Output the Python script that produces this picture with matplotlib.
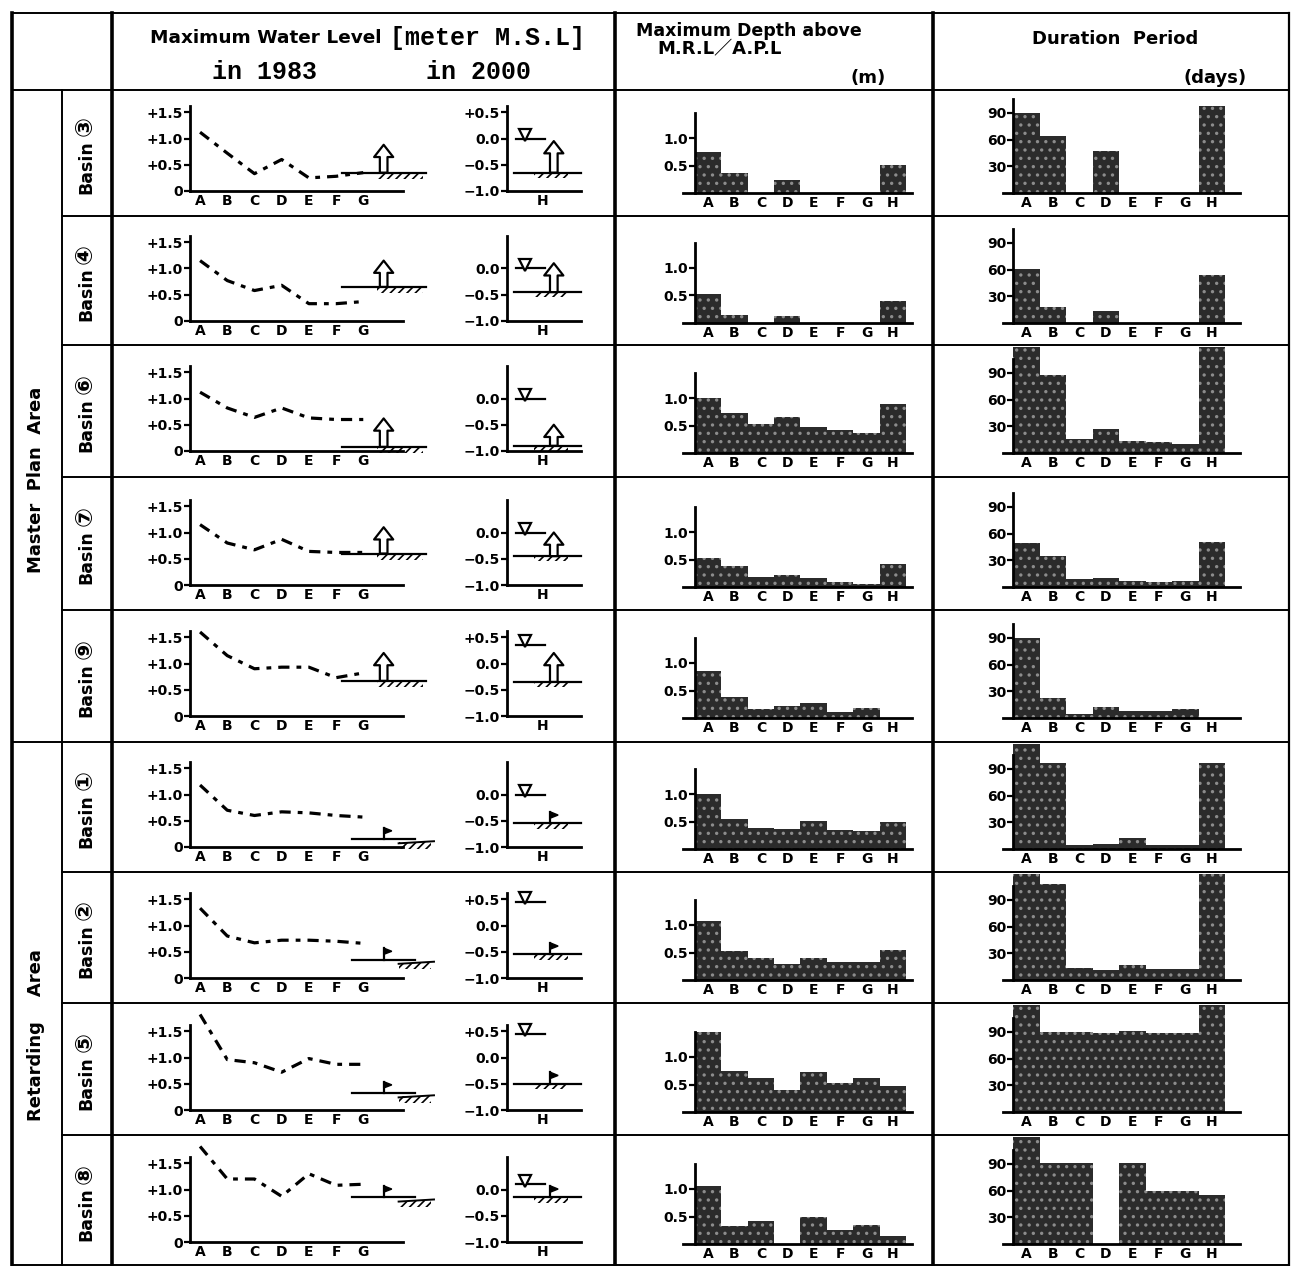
import matplotlib
matplotlib.use('Agg')
import matplotlib.pyplot as plt
from matplotlib.patches import Rectangle, Polygon

plt.rcParams['font.family'] = ['Liberation Sans Narrow', 'DejaVu Sans', 'Noto Sans CJK JP']
plt.rcParams['font.weight'] = 'bold'
plt.rcParams['hatch.linewidth'] = 1.2

# ---------------- data ----------------
basin_numbers = ['③', '④', '⑥', '⑦', '⑨', '①', '②', '⑤', '⑧']
basin_word = 'Basin'
group_labels = ['Master  Plan  Area', 'Retarding    Area']
stations_1983 = ['A', 'B', 'C', 'D', 'E', 'F', 'G']
stations_all = ['A', 'B', 'C', 'D', 'E', 'F', 'G', 'H']

# maximum water level in 1983 (m M.S.L), stations A-G
wl_1983 = [
    [1.12, 0.72, 0.33, 0.60, 0.25, 0.28, 0.35],
    [1.15, 0.77, 0.58, 0.68, 0.33, 0.33, 0.37],
    [1.12, 0.82, 0.64, 0.82, 0.63, 0.60, 0.60],
    [1.15, 0.80, 0.67, 0.87, 0.64, 0.62, 0.62],
    [1.60, 1.15, 0.90, 0.93, 0.93, 0.73, 0.82],
    [1.18, 0.70, 0.60, 0.67, 0.65, 0.60, 0.57],
    [1.33, 0.80, 0.67, 0.72, 0.72, 0.70, 0.66],
    [1.82, 0.96, 0.90, 0.72, 0.98, 0.87, 0.87],
    [1.82, 1.20, 1.20, 0.87, 1.30, 1.08, 1.10],
]
ground_1983 = [0.35, 0.65, 0.08, 0.60, 0.67, 0.15, 0.35, 0.32, 0.85]
arrow_tip_1983 = [0.88, 1.15, 0.62, 1.10, 1.20, None, None, None, None]

# water level and ground level at H in 2000
wl_2000 = [0.0, 0.0, 0.0, 0.0, 0.35, 0.0, 0.45, 0.45, 0.10]
ground_2000 = [-0.65, -0.45, -0.90, -0.45, -0.35, -0.55, -0.55, -0.50, -0.15]
arrow_tip_2000 = [-0.05, 0.10, -0.50, 0.0, 0.20, None, None, None, None]
y2000_ticks = [[0.5, 0.0, -0.5, -1.0], [0.0, -0.5, -1.0], [0.0, -0.5, -1.0],
               [0.0, -0.5, -1.0], [0.5, 0.0, -0.5, -1.0], [0.0, -0.5, -1.0],
               [0.5, 0.0, -0.5, -1.0], [0.5, 0.0, -0.5, -1.0], [0.0, -0.5, -1.0]]
y2000_labels = {0.5: '+0.5', 0.0: '0.0', -0.5: '\u22120.5', -1.0: '\u22121.0'}

# maximum depth above M.R.L / A.P.L (m), stations A-H
depth = [
    [0.75, 0.37, 0.00, 0.23, 0.00, 0.00, 0.00, 0.51],
    [0.52, 0.15, 0.00, 0.12, 0.00, 0.00, 0.00, 0.40],
    [1.00, 0.72, 0.52, 0.66, 0.47, 0.41, 0.36, 0.90],
    [0.52, 0.39, 0.18, 0.22, 0.16, 0.10, 0.05, 0.41],
    [0.85, 0.38, 0.16, 0.22, 0.28, 0.11, 0.18, 0.00],
    [1.00, 0.54, 0.39, 0.36, 0.51, 0.34, 0.33, 0.49],
    [1.07, 0.52, 0.40, 0.30, 0.40, 0.33, 0.32, 0.54],
    [1.50, 0.75, 0.62, 0.40, 0.72, 0.52, 0.62, 0.47],
    [1.05, 0.33, 0.42, 0.00, 0.49, 0.25, 0.34, 0.15],
]
# duration period (days), stations A-H
duration = [
    [90, 64, 0, 47, 0, 0, 0, 98],
    [61, 18, 0, 13, 0, 0, 0, 54],
    [125, 88, 16, 27, 13, 12, 10, 125],
    [49, 35, 9, 10, 7, 6, 7, 51],
    [90, 23, 4, 12, 8, 8, 10, 0],
    [125, 97, 5, 6, 12, 5, 4, 97],
    [125, 108, 14, 11, 17, 12, 12, 125],
    [125, 90, 90, 89, 91, 89, 89, 125],
    [125, 91, 91, 0, 91, 60, 60, 55],
]

header_wl = 'Maximum Water Level'
header_wl_unit = '[meter M.S.L]'
header_years = ['in 1983', 'in 2000']
header_depth = ['Maximum Depth above', 'M.R.L\uff0fA.P.L', '(m)']
header_dur = ['Duration  Period', '(days)']

# ---------------- layout (pixels) ----------------
W, H = 1292, 1266
fig = plt.figure(figsize=(W / 100, H / 100), dpi=100)
bg = fig.add_axes([0, 0, 1, 1])
bg.set_xlim(0, W)
bg.set_ylim(H, 0)
bg.axis('off')

row_tops = [90, 216, 345, 477, 610, 742, 872, 1003, 1135, 1266]
baselines = [191, 321, 451, 585, 716, 847, 978, 1110, 1242]
X_L, X_G, X_B, X_D, X_T, X_R = 12, 62, 112, 615, 933, 1289
TOP = 13
MONO = ['Liberation Mono', 'DejaVu Sans Mono']

lw_h = 1.4
bg.plot([X_L, X_R], [TOP, TOP], color='k', lw=lw_h)
bg.plot([X_L, X_R], [90, 90], color='k', lw=lw_h)
for y in row_tops[1:-1]:
    x0 = X_L if y == 742 else X_G
    bg.plot([x0, X_R], [y, y], color='k', lw=lw_h)
bg.plot([X_L, X_R], [H - 1, H - 1], color='k', lw=lw_h)
for x, y0, lw in [(X_L, TOP, 2.6), (X_G, 90, 1.4), (X_B, TOP, 2.6), (X_D, TOP, 2.6),
                  (X_T, TOP, 2.6), (X_R, TOP, 1.6)]:
    bg.plot([x, x], [y0, H], color='k', lw=lw)

# headers
bg.text(150, 38, header_wl, fontsize=13.3, ha='left', va='center')
bg.text(390, 38, header_wl_unit, fontsize=18, ha='left', va='center',
        family=MONO, fontweight='bold')
bg.text(265, 72, header_years[0], fontsize=18, ha='center', va='center',
        family=MONO, fontweight='bold')
bg.text(479, 72, header_years[1], fontsize=18, ha='center', va='center',
        family=MONO, fontweight='bold')
bg.text(636, 31, header_depth[0], fontsize=12.5, ha='left', va='center')
bg.text(657, 49, header_depth[1], fontsize=13, ha='left', va='center')
bg.text(886, 78, header_depth[2], fontsize=13, ha='right', va='center')
bg.text(1115, 39, header_dur[0], fontsize=13, ha='center', va='center')
bg.text(1247, 78, header_dur[1], fontsize=13, ha='right', va='center')

bg.text(36, 480, group_labels[0], rotation=90, fontsize=13, ha='center', va='center')
bg.text(36, 1035, group_labels[1], rotation=90, fontsize=13, ha='center', va='center')
for i, num in enumerate(basin_numbers):
    yc = (row_tops[i] + row_tops[i + 1]) / 2
    bg.text(86, yc + 14, basin_word, rotation=90, fontsize=12.5, ha='center', va='center')
    bg.text(85, yc - 27, num, rotation=90, fontsize=17, ha='center', va='center',
            family=['DejaVu Sans', 'Noto Sans CJK JP'], fontweight='bold')


def px_axes(x0, y0, x1, y1):
    return fig.add_axes([x0 / W, 1 - y1 / H, (x1 - x0) / W, (y1 - y0) / H])


def style_axes(ax, spine_lw=2.0):
    for s in ['top', 'right']:
        ax.spines[s].set_visible(False)
    for s in ['left', 'bottom']:
        ax.spines[s].set_linewidth(spine_lw)
    ax.patch.set_alpha(0)
    ax.tick_params(axis='x', length=0, labelsize=10, pad=2)
    ax.tick_params(axis='y', length=4, width=1.6, direction='out', labelsize=10, pad=1)


def draw_hatch(ax, x0, x1, level, h):
    ax.add_patch(Rectangle((x0, level - h), x1 - x0, h, fill=False, hatch='////',
                           lw=0, color='k', clip_on=False))


def draw_flag(ax, x, level, w, h):
    ax.plot([x, x], [level, level + h], color='k', lw=1.6, clip_on=False)
    ax.add_patch(Polygon([[x, level + h], [x + w, level + h * 0.72], [x, level + h * 0.45]],
                         closed=True, color='k', clip_on=False))


def draw_water_mark(ax, x, level, half):
    ax.plot([x - half, x + half * 2.2], [level, level], color='k', lw=1.6, clip_on=False)
    ax.plot([x], [level + 0.07], marker='v', ms=8, mfc='white', mec='k', mew=1.6,
            clip_on=False)


def up_arrow(ax, x, base, tip):
    ax.annotate('', xy=(x, tip), xytext=(x, base), annotation_clip=False,
                arrowprops=dict(arrowstyle='simple,head_width=1.25,head_length=0.8,tail_width=0.5',
                                fc='white', ec='k', lw=1.6, mutation_scale=11,
                                shrinkA=0, shrinkB=0))


BAR_STYLE = dict(width=1.0, facecolor='#2b2b2b', edgecolor='#8c8c8c', hatch='..', lw=0)

U = 52.5  # px per metre in water-level panels
for i in range(9):
    base = baselines[i]
    top = base - 1.62 * U
    # ---- 1983 panel ----
    a1 = px_axes(190, top, 455, base)
    style_axes(a1)
    xs = [1, 2, 3, 4, 5, 6, 7]
    a1.set_xlim(0.63, 0.63 + 265 / 27.2)
    a1.set_ylim(0, 1.62)
    a1.spines['bottom'].set_bounds(0.63, 8.45)
    a1.plot(xs, wl_1983[i], color='k', lw=2.3, ls=(0, (3.5, 2.2, 1.5, 2.2)), clip_on=False)
    a1.set_xticks(xs)
    a1.set_xticklabels(stations_1983)
    a1.set_yticks([0, 0.5, 1.0, 1.5])
    a1.set_yticklabels(['0', '+0.5', '+1.0', '+1.5'])
    g = ground_1983[i]
    if arrow_tip_1983[i] is not None:
        a1.plot([6.2, 9.3], [g, g], color='k', lw=1.6, clip_on=False)
        draw_hatch(a1, 7.5, 9.2, g, 0.12)
        up_arrow(a1, 7.75, g, arrow_tip_1983[i])
    else:
        a1.plot([6.6, 8.9], [g, g], color='k', lw=1.6, clip_on=False)
        a1.plot([8.3, 9.6], [g - 0.08, g - 0.04], color='k', lw=1.4, clip_on=False)
        draw_hatch(a1, 8.3, 9.5, g - 0.06, 0.12)
        draw_flag(a1, 7.75, g, 0.3, 0.22)

    # ---- 2000 panel ----
    a2 = px_axes(507, top, 585, base)
    style_axes(a2)
    a2.set_xlim(0, 78 / 36)
    a2.set_ylim(-1.0, 0.62)
    a2.spines['bottom'].set_bounds(0, 2.05)
    a2.set_xticks([1])
    a2.set_xticklabels(['H'])
    a2.set_yticks(y2000_ticks[i])
    a2.set_yticklabels([y2000_labels[v] for v in y2000_ticks[i]])
    draw_water_mark(a2, 0.5, wl_2000[i], 0.25)
    g2 = ground_2000[i]
    a2.plot([0.2, 2.05], [g2, g2], color='k', lw=1.6, clip_on=False)
    draw_hatch(a2, 0.75, 1.7, g2, 0.1)
    if arrow_tip_2000[i] is not None:
        up_arrow(a2, 1.3, g2, arrow_tip_2000[i])
    else:
        draw_flag(a2, 1.2, g2, 0.22, 0.22)

    # ---- depth panel ----
    slot = 26.4
    bd = baselines[i] + 2
    ad = px_axes(683, bd - 1.45 * 55, 912, bd)
    style_axes(ad)
    ad.set_xlim(-0.5 - 12 / slot, 7.5 + 6 / slot)
    ad.set_ylim(0, 1.45)
    ad.spines['left'].set_position(('data', -0.5))
    ad.bar(range(8), depth[i], **BAR_STYLE)
    ad.set_xticks(range(8))
    ad.set_xticklabels(stations_all)
    ad.set_yticks([0.5, 1.0])
    ad.set_yticklabels(['0.5', '1.0'])

    # ---- duration panel ----
    slot2 = 26.5
    ytop = row_tops[i] + 2
    unit = 26.7 / 30
    ymax = (bd - ytop) / unit
    au = px_axes(1003, ytop, 1240, bd)
    style_axes(au)
    au.set_xlim(-0.5 - 10 / slot2, -0.5 + 227 / slot2)
    au.set_ylim(0, ymax)
    au.spines['left'].set_position(('data', -0.5))
    au.spines['left'].set_bounds(0, min(ymax, 106))
    au.bar(range(8), duration[i], **BAR_STYLE)
    au.set_xticks(range(8))
    au.set_xticklabels(stations_all)
    au.set_yticks([30, 60, 90])
    au.set_yticklabels(['30', '60', '90'])

fig.savefig('out.png', dpi=100)
